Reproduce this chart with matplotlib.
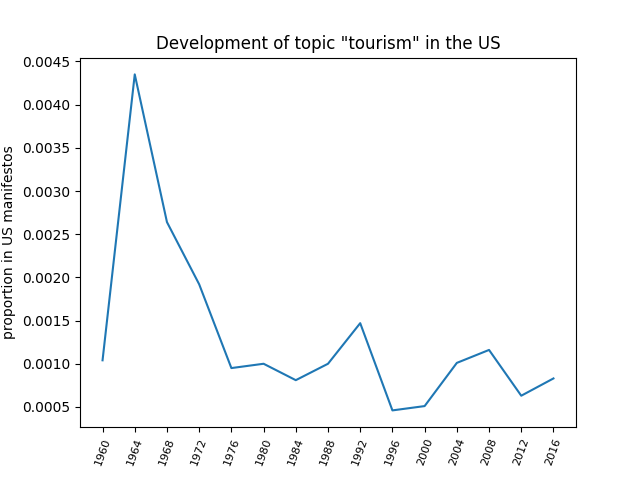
import matplotlib
matplotlib.use('Agg')
import matplotlib.pyplot as plt

years = [1960, 1964, 1968, 1972, 1976, 1980, 1984, 1988, 1992, 1996, 2000, 2004, 2008, 2012, 2016]
proportion = [0.00104, 0.00435, 0.00264, 0.00192, 0.00095, 0.00100, 0.00081, 0.00100, 0.00147,
              0.00046, 0.00051, 0.00101, 0.00116, 0.00063, 0.00083]

fig, ax = plt.subplots(figsize=(6.4, 4.8), dpi=100)
ax.plot(years, proportion)
ax.set_title('Development of topic "tourism" in the US')
ax.set_ylabel('proportion in US manifestos')
ax.set_xticks(years)
ax.set_xticklabels([str(y) for y in years], rotation=70, fontsize=8)
fig.savefig('out.png')
